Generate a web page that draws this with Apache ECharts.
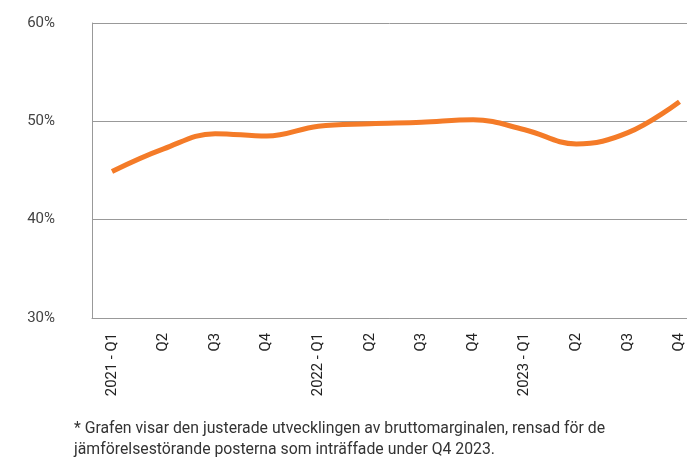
<!DOCTYPE html>
<html>
<head>
<meta charset="utf-8">
<script src="https://cdn.jsdelivr.net/npm/echarts@6/dist/echarts.min.js"></script>
<style>
html,body{margin:0;padding:0;background:#fff;}
#chart{width:687px;height:460px;}
</style>
</head>
<body>
<div id="chart"></div>
<script>
var categories = ['2021 - Q1','Q2','Q3','Q4','2022 - Q1','Q2','Q3','Q4','2023 - Q1','Q2','Q3','Q4'];
var margin = [44.9, 47.2, 48.75, 48.5, 49.5, 49.75, 49.9, 50.15, 49.15, 47.7, 48.85, 52.0];
var yTicks = [30, 40, 50, 60];
var footnote = '* Grafen visar den justerade utvecklingen av bruttomarginalen, rensad för de\njämförelsestörande posterna som inträffade under Q4 2023.';

var font = 'Roboto, "DejaVu Sans", sans-serif';
var chart = echarts.init(document.getElementById('chart'), null, {renderer:'canvas'});
chart.setOption({
  animation: false,
  grid: [
    {left: 92, top: 23, bottom: 142, right: -20},
    {left: 112, top: 23, bottom: 142, right: -1}
  ],
  xAxis: [
    {gridIndex: 0, type: 'value', min: 0, max: 1, axisLine: {show: true, lineStyle: {color: '#999', width: 1}},
     axisTick: {show: false}, axisLabel: {show: false}, splitLine: {show: false}},
    {gridIndex: 1, type: 'category', data: categories, boundaryGap: false,
     axisLine: {show: false}, axisTick: {show: false}, splitLine: {show: false},
     axisLabel: {rotate: 90, margin: 15, color: '#222', fontSize: 14.8, fontFamily: font, interval: 0}}
  ],
  yAxis: [
    {gridIndex: 0, type: 'value', min: yTicks[0], max: yTicks[yTicks.length-1], interval: 10,
     axisLine: {show: true, lineStyle: {color: '#999', width: 1}}, axisTick: {show: false},
     axisLabel: {formatter: '{value}%', margin: 37, color: '#444', fontSize: 15, fontFamily: font},
     splitLine: {show: true, lineStyle: {color: '#999', width: 1}}},
    {gridIndex: 1, type: 'value', min: yTicks[0], max: yTicks[yTicks.length-1], interval: 10,
     axisLine: {show: false}, axisTick: {show: false}, axisLabel: {show: false}, splitLine: {show: false}}
  ],
  series: [{
    type: 'line', xAxisIndex: 1, yAxisIndex: 1, data: margin, smooth: 0.4,
    showSymbol: false, lineStyle: {color: '#F47B28', width: 5, cap: 'butt'}, itemStyle: {color: '#F47B28'}
  }],
  graphic: [{
    type: 'text', left: 74, top: 419,
    style: {text: footnote, fill: '#333', font: '15.8px ' + font, lineHeight: 21}
  }]
});
</script>
</body>
</html>
